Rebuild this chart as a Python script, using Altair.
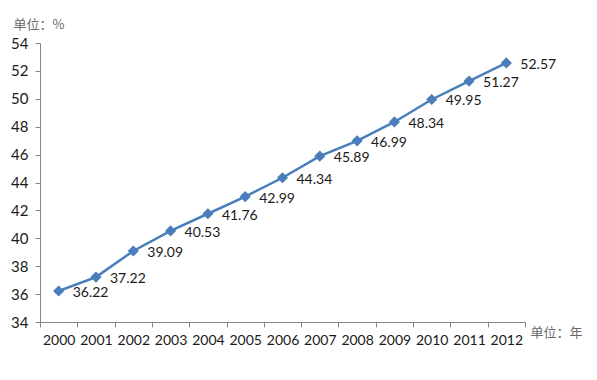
import altair as alt
import pandas as pd

years = ["2000", "2001", "2002", "2003", "2004", "2005", "2006",
         "2007", "2008", "2009", "2010", "2011", "2012"]
values = [36.22, 37.22, 39.09, 40.53, 41.76, 42.99, 44.34,
          45.89, 46.99, 48.34, 49.95, 51.27, 52.57]

df = pd.DataFrame({"year": years, "value": values})
df["label"] = [f"{v:.2f}" for v in values]

FONT = "Lato"
AXIS_COLOR = "#868686"
LINE_COLOR = "#4A7EBB"

x = alt.X("year:O",
          scale=alt.Scale(type="band", paddingInner=0, paddingOuter=0),
          axis=alt.Axis(title="单位：年", titleAngle=0, titleX=490, titleY=10,
                        titleAlign="left", titleBaseline="middle",
                        titleFont="Noto Sans CJK SC", titleFontSize=13,
                        titleFontWeight="normal", titleColor="#6a6a6a",
                        labelAngle=0, labelFont=FONT, labelFontSize=14,
                        labelColor="#1a1a1a", labelPadding=6,
                        tickBand="extent", tickSize=5, tickColor=AXIS_COLOR,
                        domainColor=AXIS_COLOR, grid=False))
y = alt.Y("value:Q",
          scale=alt.Scale(domain=[34, 54], nice=False, zero=False),
          axis=alt.Axis(title="单位：%", titleAngle=0, titleX=-27, titleY=-19,
                        titleAlign="left", titleBaseline="middle",
                        titleFont="Noto Sans CJK SC", titleFontSize=13,
                        titleFontWeight="normal", titleColor="#6a6a6a",
                        values=list(range(34, 55, 2)),
                        labelFont=FONT, labelFontSize=15, labelColor="#1a1a1a",
                        labelPadding=7, tickSize=5, tickColor=AXIS_COLOR,
                        domainColor=AXIS_COLOR, grid=False))

base = alt.Chart(df).encode(x=x, y=y)

line = base.mark_line(color=LINE_COLOR, strokeWidth=2.5)
pts = base.mark_point(shape="diamond", filled=True, size=125, opacity=1,
                      color=LINE_COLOR)
txt = base.mark_text(align="left", baseline="middle", dx=14, dy=2,
                     font=FONT, fontSize=14, color="#1a1a1a").encode(text="label:N")

chart = (line + pts + txt).properties(
    width=485, height=279,
    autosize=alt.AutoSizeParams(type="none"),
    padding={"left": 32, "top": 35, "right": 64, "bottom": 50},
).configure_view(stroke=None)

chart.save("out.html", embed_options={"renderer": "svg", "actions": False})
